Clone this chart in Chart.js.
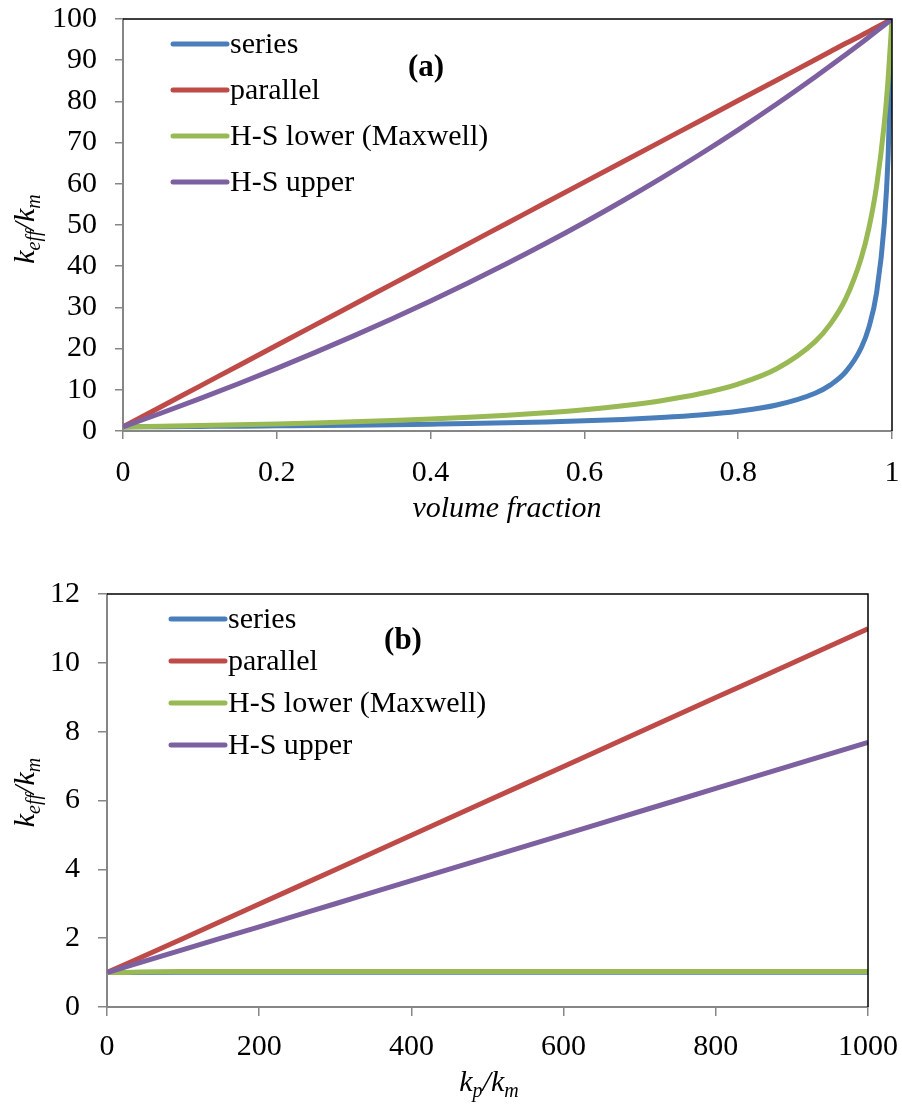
<!DOCTYPE html>
<html>
<head>
<meta charset="utf-8">
<script src="https://cdn.jsdelivr.net/npm/chart.js@4.4.0/dist/chart.umd.min.js"></script>
<style>
  body { margin: 0; background: #fff; }
  .panel { position: absolute; left: 0; width: 902px; height: 558px; }
</style>
</head>
<body>
<div class="panel" style="top:0"><canvas id="chartA" width="902" height="558"></canvas></div>
<div class="panel" style="top:558px"><canvas id="chartB" width="902" height="558"></canvas></div>
<script>
// panel (a): k_eff/k_m vs volume fraction
const fracA = [0, 0.05, 0.1, 0.15, 0.2, 0.25, 0.3, 0.35, 0.4, 0.45, 0.5, 0.55, 0.6, 0.65, 0.7, 0.75, 0.8, 0.85, 0.9, 0.92, 0.94, 0.96, 0.97, 0.98, 0.99, 0.995, 1];
const seriesA = [1, 1.05, 1.11, 1.17, 1.25, 1.33, 1.42, 1.53, 1.66, 1.8, 1.98, 2.2, 2.46, 2.8, 3.26, 3.88, 4.81, 6.31, 9.17, 11.2, 14.4, 20.2, 25.2, 33.6, 50.3, 66.9, 100];
const parallelA = [1, 5.95, 10.9, 15.85, 20.8, 25.75, 30.7, 35.65, 40.6, 45.55, 50.5, 55.45, 60.4, 65.35, 70.3, 75.25, 80.2, 85.15, 90.1, 92.1, 94.1, 96.0, 97.0, 98.0, 99.0, 99.5, 100];
const lowerA = [1, 1.15, 1.32, 1.51, 1.72, 1.96, 2.23, 2.54, 2.9, 3.33, 3.83, 4.44, 5.18, 6.13, 7.36, 9.03, 11.4, 15.1, 21.7, 26.0, 32.2, 42.0, 49.3, 59.5, 74.7, 85.6, 100];
const upperA = [1, 4.37, 7.86, 11.47, 15.2, 19.07, 23.09, 27.25, 31.57, 36.05, 40.72, 45.57, 50.62, 55.89, 61.38, 67.11, 73.1, 79.36, 85.92, 88.63, 91.39, 94.2, 95.63, 97.07, 98.53, 99.26, 100];

// panel (b): k_eff/k_m vs k_p/k_m
const ratioB = [0, 100, 200, 300, 400, 500, 600, 700, 800, 900, 1000];
const seriesB = [1, 1.01, 1.01, 1.01, 1.01, 1.01, 1.01, 1.01, 1.01, 1.01, 1.01];
const parallelB = [1, 1.99, 2.99, 3.99, 4.99, 5.99, 6.99, 7.99, 8.99, 9.99, 10.99];
const lowerB = [1, 1.03, 1.03, 1.03, 1.03, 1.03, 1.03, 1.03, 1.03, 1.03, 1.03];
const upperB = [1, 1.67, 2.33, 3.0, 3.67, 4.34, 5.01, 5.68, 6.35, 7.02, 7.69];

const names = ['series', 'parallel', 'H-S lower (Maxwell)', 'H-S upper'];
const colors = ['#4a7ebb', '#be4b48', '#98b954', '#7d60a0'];

const SERIF = '"Liberation Serif", "Times New Roman", serif';
Chart.defaults.font.family = SERIF;
Chart.defaults.color = '#000';

function pts(xs, ys) {
  return xs.map((x, i) => ({ x: x, y: ys[i] }));
}

function makeSets(xs, lists) {
  // later series sit on top, like the original
  return lists.map((ys, i) => ({
    label: names[i],
    data: pts(xs, ys),
    borderColor: colors[i],
    backgroundColor: colors[i],
    borderWidth: 5,
    pointRadius: 0,
    cubicInterpolationMode: 'monotone',
    order: lists.length - i
  }));
}

// frame, legend, panel tag and axis titles
const decor = {
  id: 'decor',
  afterDraw(chart, args, o) {
    const c = chart.ctx;
    const a = chart.chartArea;
    c.save();
    c.strokeStyle = '#000';
    c.lineWidth = 1.5;
    c.beginPath();
    c.moveTo(a.left, a.top);
    c.lineTo(a.right, a.top);
    c.lineTo(a.right, a.bottom);
    c.stroke();

    // legend inside plot
    c.font = '30px ' + SERIF;
    c.textBaseline = 'middle';
    c.lineCap = 'round';
    names.forEach((n, i) => {
      const y = o.legY + i * o.legGap;
      c.strokeStyle = colors[i];
      c.lineWidth = 5;
      c.beginPath();
      c.moveTo(o.legX, y);
      c.lineTo(o.legX + 54, y);
      c.stroke();
      c.fillStyle = '#000';
      c.textAlign = 'left';
      c.fillText(n, o.legX + 57, y + 1);
    });

    c.font = 'bold 31px ' + SERIF;
    c.textAlign = 'center';
    c.fillText(o.tag, o.tagX, o.tagY);

    // x title
    drawSub(c, o.xTitle, o.xtX, o.xtY, 0);
    // y title
    drawSub(c, [['k', false], ['eff', true], ['/k', false], ['m', true]], o.ytX, (a.top + a.bottom) / 2 + o.ytDy, -Math.PI / 2);
    c.restore();
  }
};

function drawSub(c, parts, cx, cy, rot) {
  c.save();
  c.translate(cx, cy);
  c.rotate(rot);
  c.textBaseline = 'alphabetic';
  c.textAlign = 'left';
  c.fillStyle = '#000';
  let w = 0;
  parts.forEach(p => {
    c.font = 'italic ' + (p[1] ? 20 : 30) + 'px ' + SERIF;
    w += c.measureText(p[0]).width;
  });
  let x = -w / 2;
  parts.forEach(p => {
    c.font = 'italic ' + (p[1] ? 20 : 30) + 'px ' + SERIF;
    c.fillText(p[0], x, p[1] ? 15 : 9);
    x += c.measureText(p[0]).width;
  });
  c.restore();
}

function axis(min, max, step, w, h, tl, pad, isY) {
  return {
    type: 'linear',
    min: min,
    max: max,
    ticks: {
      stepSize: step,
      padding: pad,
      font: { size: 30 },
      color: '#000',
      callback: v => String(Math.round(v * 10) / 10)
    },
    grid: { drawOnChartArea: false, drawTicks: true, tickLength: tl, color: '#868686', lineWidth: 1.5 },
    border: { color: '#868686', width: 2 },
    afterFit(s) {
      if (isY) s.width = w; else s.height = h;
      s.paddingTop = 0;
      s.paddingBottom = 0;
      s.paddingLeft = 0;
      s.paddingRight = 0;
    }
  };
}

new Chart(document.getElementById('chartA'), {
  type: 'line',
  data: { datasets: makeSets(fracA, [seriesA, parallelA, lowerA, upperA]) },
  options: {
    responsive: false,
    animation: false,
    layout: { padding: { left: 0, right: 10, top: 19, bottom: 0 } },
    scales: {
      x: axis(0, 1, 0.2, 0, 127, 8, 16, false),
      y: axis(0, 100, 10, 123, 0, 8, 18, true)
    },
    plugins: {
      legend: { display: false },
      tooltip: { enabled: false },
      decor: {
        legX: 173, legY: 44, legGap: 46,
        tag: '(a)', tagX: 426, tagY: 68,
        xTitle: [['volume fraction', false]], xtX: 507, xtY: 508,
        ytX: 25, ytDy: 4
      }
    }
  },
  plugins: [decor]
});

new Chart(document.getElementById('chartB'), {
  type: 'line',
  data: { datasets: makeSets(ratioB, [seriesB, parallelB, lowerB, upperB]) },
  options: {
    responsive: false,
    animation: false,
    layout: { padding: { left: 0, right: 34, top: 36, bottom: 0 } },
    scales: {
      x: axis(0, 1000, 200, 0, 109, 9, 13, false),
      y: axis(0, 12, 2, 107, 0, 9, 18, true)
    },
    plugins: {
      legend: { display: false },
      tooltip: { enabled: false },
      decor: {
        legX: 171, legY: 61, legGap: 42,
        tag: '(b)', tagX: 403, tagY: 83,
        xTitle: [['k', false], ['p', true], ['/k', false], ['m', true]], xtX: 489, xtY: 524,
        ytX: 25, ytDy: -8
      }
    }
  },
  plugins: [decor]
});
</script>
</body>
</html>
